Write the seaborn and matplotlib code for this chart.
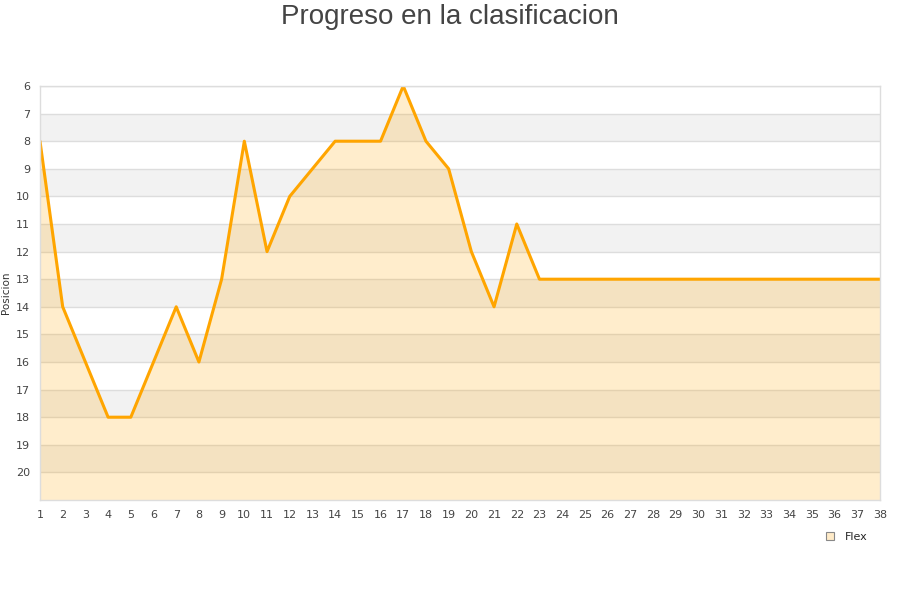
import matplotlib
matplotlib.use("Agg")
import matplotlib.pyplot as plt
import seaborn as sns
import pandas as pd
import numpy as np

jornadas = list(range(1, 39))
posicion = [8, 14, 16, 18, 18, 16, 14, 16, 13, 8, 12, 10, 9, 8, 8, 8, 6, 8, 9, 12,
            14, 11, 13] + [13] * 15
team = "Flex"
title = "Progreso en la clasificacion"
ylabel = "Posicion"

sns.set_theme(style="white")
plt.rcParams['font.family'] = ['DejaVu Sans']

df = pd.DataFrame({"Jornada": jornadas, "Posicion": posicion, "Equipo": team})

fig = plt.figure(figsize=(9, 6), dpi=100)
ax = fig.add_axes([40/900, 1-500/600, 840/900, 414/600])

# alternating bands
for y0 in range(7, 21, 2):
    ax.axhspan(y0, y0 + 1, color="#F2F2F2", zorder=0, lw=0)
for y in range(6, 21):
    ax.axhline(y, color="#DDDDDD", lw=1, zorder=0.5)

ax.fill_between(df["Jornada"], df["Posicion"], 21, color="#FFA500", alpha=0.2, lw=0, zorder=1)
sns.lineplot(data=df, x="Jornada", y="Posicion", color="#FFA500", lw=2.2, ax=ax, zorder=2, legend=False)

ax.set_xlim(1, 38)
ax.set_ylim(21, 6)
ax.set_xticks(jornadas)
ax.set_yticks(range(6, 21))
ax.tick_params(axis="both", labelsize=8, colors="#444444", length=0, pad=7)
ax.set_xlabel("")
ax.set_ylabel(ylabel, fontsize=7.5, color="#333333", labelpad=2)
ax.yaxis.set_label_coords(-0.034, 0.5)
for s in ax.spines.values():
    s.set_color("#DDDDDD")
    s.set_linewidth(1)

fig.text(0.5, 1 - 17/600, title, fontsize=20, color="#444444", ha="center", va="center",
         family="Liberation Sans")

# legend
from matplotlib.lines import Line2D
handle = Line2D([0], [0], marker="s", linestyle="none", markersize=6,
                markerfacecolor="#FFEBC8", markeredgecolor="#888888", markeredgewidth=0.8)
fig.legend([handle], [team], loc="center", bbox_to_anchor=(0.937, 0.105),
           frameon=False, fontsize=8, handletextpad=0.3)

fig.savefig("out.png", dpi=100)
